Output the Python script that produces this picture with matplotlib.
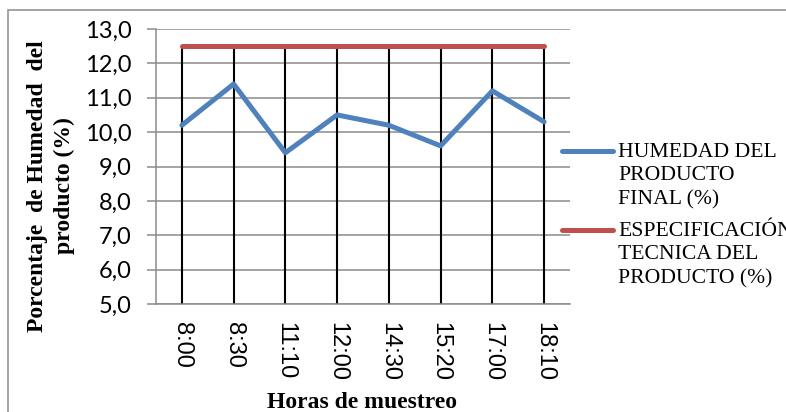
import numpy as np
import matplotlib.pyplot as plt
from matplotlib.patches import Rectangle
from matplotlib.lines import Line2D

# horas de muestreo y humedad medida
horas = ['8:00', '8:30', '11:10', '12:00', '14:30', '15:20', '17:00', '18:10']
humedad = [10.2, 11.4, 9.4, 10.5, 10.2, 9.6, 11.2, 10.3]
especificacion = [12.5, 12.5, 12.5, 12.5, 12.5, 12.5, 12.5, 12.5]
y_ticks = [5.0, 6.0, 7.0, 8.0, 9.0, 10.0, 11.0, 12.0, 13.0]
series = ['HUMEDAD DEL\nPRODUCTO\nFINAL (%)', 'ESPECIFICACIÓN\nTECNICA DEL\nPRODUCTO (%)']

azul = '#4f81bd'
rojo = '#c0504d'
gris = '#8c8c8c'

W, H = 786, 412
fig = plt.figure(figsize=(W / 100, H / 100), dpi=100)
ax = fig.add_axes([156 / W, 1 - 304 / H, (570 - 156) / W, (304 - 29) / H])

x = np.arange(len(horas))

# lineas de caida desde el valor mas alto hasta el eje
tope = np.maximum(humedad, especificacion)
ax.vlines(x, y_ticks[0], tope, colors='black', linewidth=1.5, zorder=2)

ax.plot(x, humedad, color=azul, linewidth=3.6, solid_capstyle='round', zorder=3)
ax.plot(x, especificacion, color=rojo, linewidth=3.6, solid_capstyle='round', zorder=3)

ax.set_xlim(-0.5, len(horas) - 0.5)
ax.set_ylim(y_ticks[0], y_ticks[-1])
ax.set_yticks(y_ticks)
ax.set_yticklabels([f'{v:.1f}'.replace('.', ',') for v in y_ticks],
                   fontfamily='Lato', fontsize=17)
ax.set_xticks(x)
ax.set_xticklabels(horas, rotation=-90, fontfamily='Liberation Sans', fontsize=17)

ax.grid(axis='y', color=gris, linewidth=1.1, zorder=1)
ax.set_axisbelow(True)
for s in ['top', 'right']:
    ax.spines[s].set_visible(False)
for s in ['left', 'bottom']:
    ax.spines[s].set_color(gris)
    ax.spines[s].set_linewidth(1.1)
ax.tick_params(axis='y', length=6.5, width=1.1, color=gris, pad=11)
ax.tick_params(axis='x', length=0, pad=13)

# leyenda: linea de muestra alineada con la primera linea del texto
for i, (nombre, color) in enumerate(zip(series, [azul, rojo])):
    y0 = 1 - (151 + 79 * i) / H
    fig.lines.append(Line2D([562 / W, 613 / W], [y0, y0], transform=fig.transFigure,
                            color=color, linewidth=3.6, solid_capstyle='round'))
    fig.text(618 / W, y0 + 8 / H, nombre, ha='left', va='top',
             fontfamily='Liberation Serif', fontsize=15.6, linespacing=1.32)

fig.text(51 / W, 1 - 186 / H, 'Porcentaje  de Humedad  del\nproducto (%)',
         rotation=90, ha='center', va='center', multialignment='center',
         fontfamily='Liberation Serif', fontweight='bold', fontsize=17,
         linespacing=1.35)
fig.text(362 / W, 1 - 403 / H, 'Horas de muestreo', ha='center', va='center',
         fontfamily='Liberation Serif', fontweight='bold', fontsize=17)

# marco exterior del grafico
fig.patches.append(Rectangle((8 / W, -0.1), 1.0, 1 - 10 / H + 0.1,
                             transform=fig.transFigure, fill=False,
                             edgecolor=gris, linewidth=1.1))

fig.savefig('out.png', dpi=100)
